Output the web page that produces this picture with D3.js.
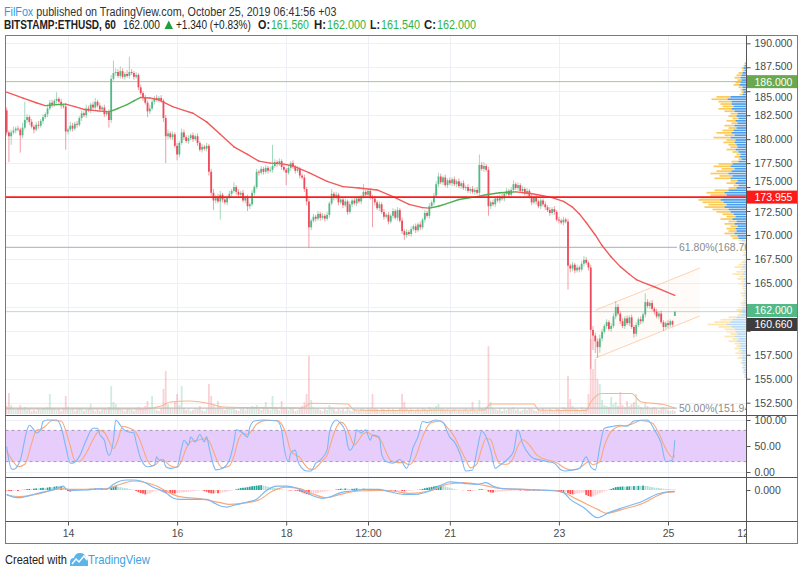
<!DOCTYPE html>
<html>
<head>
<meta charset="utf-8">
<script src="https://cdn.jsdelivr.net/npm/d3@7/dist/d3.min.js"></script>
<style>
html,body{margin:0;padding:0;background:#fff;}
svg{display:block;}
text{font-family:"Liberation Sans",Arial,sans-serif;}
</style>
</head>
<body>
<svg id="chart" width="800" height="575"></svg>
<script>
// ---------------- DATA ----------------
const firstCandleTime = Date.UTC(2019, 9, 12, 21); // hourly candles (UTC)
const firstOpen = 183.0;
const lastOpen = 161.56;
const closes = [
180.7,180.3,180.7,180.9,181.1,181.0,180.4,181.2,182.0,182.3,
181.8,181.3,181.0,181.5,181.4,181.9,182.3,182.6,183.2,183.8,
183.6,184.0,184.2,183.9,183.5,183.4,180.8,181.0,181.4,181.1,
181.6,181.5,182.2,182.7,182.5,183.2,183.0,183.6,183.3,183.9,
183.5,183.1,183.3,182.6,182.8,182.0,186.3,186.9,187.0,186.6,
187.1,186.5,186.8,186.6,187.0,186.9,186.5,186.7,185.4,184.8,
184.3,183.8,182.9,183.2,183.9,184.3,184.1,184.3,184.0,182.2,
180.3,180.6,180.2,180.5,179.3,178.4,179.6,180.7,180.2,179.8,
180.1,180.4,180.0,180.3,179.6,178.9,179.2,179.0,179.3,176.6,
174.4,173.6,174.0,173.5,174.2,173.7,173.4,173.9,174.3,174.6,
175.0,174.5,174.2,174.4,173.6,173.9,173.0,173.2,174.4,175.0,
176.6,176.5,176.9,176.6,177.0,176.7,176.8,177.2,177.6,177.4,
177.7,177.1,176.8,176.5,177.0,177.5,177.1,176.7,176.9,176.2,
176.0,174.8,173.5,170.8,171.5,171.9,171.7,172.2,171.8,172.0,
171.7,172.1,173.3,174.3,173.9,174.2,173.4,173.7,173.1,173.5,
172.4,173.2,173.6,173.3,173.8,173.5,174.0,174.5,174.2,174.6,
174.0,173.8,173.4,172.8,173.2,172.4,171.9,172.1,171.4,172.0,
172.5,171.8,172.6,171.5,170.4,170.0,170.3,170.1,170.6,170.9,
170.5,171.1,170.8,171.6,172.3,172.0,173.0,173.4,174.1,175.3,
176.1,175.5,176.0,175.2,175.7,175.4,175.8,175.3,175.6,175.1,
175.4,174.9,175.0,174.6,174.8,174.5,174.7,174.4,177.3,176.9,
177.2,176.8,173.0,173.4,173.2,173.8,173.6,174.0,173.8,174.3,
174.6,174.2,174.7,175.3,174.9,175.2,174.6,174.8,174.3,174.6,
174.0,173.4,173.9,173.5,173.0,173.6,173.2,172.9,172.6,172.3,
172.7,172.4,171.6,171.5,171.3,171.6,171.4,166.8,166.5,166.9,
166.3,166.6,166.4,167.0,167.4,167.1,166.6,160.1,159.5,158.9,
158.3,159.2,159.9,160.5,160.9,160.2,160.5,161.5,162.5,161.8,
161.0,160.5,161.3,160.8,161.4,160.4,159.7,160.6,161.2,161.0,
161.7,163.0,162.6,162.9,162.3,162.0,161.5,161.8,160.9,160.4,
160.8,160.6,161.0,160.66,162.0];
const upWick = [
0.3,0.2,0.3,0.4,0.2,0.3,0.2,0.5,1.9,0.3, 0.2,0.3,0.2,0.3,0.4,0.2,0.3,0.2,0.4,0.3,
0.3,0.2,0.7,0.2,0.3,0.2,0.3,0.2,0.4,0.3, 0.2,0.3,0.2,0.3,0.2,0.4,0.3,0.2,0.3,0.4,
0.2,0.3,0.2,0.3,0.2,0.3,0.4,1.3,0.4,0.3, 0.5,0.3,0.2,0.4,1.6,0.3,0.2,0.3,0.2,0.3,
0.2,0.3,0.2,0.4,0.3,0.2,0.3,0.2,0.3,0.2, 0.3,0.4,0.2,0.3,0.2,0.3,0.2,0.4,0.3,0.2,
0.3,0.2,0.3,0.2,0.3,0.2,0.3,0.2,0.3,0.2, 0.3,0.4,0.2,0.3,0.4,0.2,0.3,0.2,0.3,0.2,
0.5,0.2,0.3,0.2,0.3,0.2,0.3,0.2,0.3,0.2, 0.3,0.2,0.3,0.2,0.3,0.2,0.3,2.2,0.3,0.2,
0.3,0.2,0.3,0.2,0.3,0.2,0.3,0.2,0.3,0.2, 0.2,0.3,0.2,0.3,0.2,0.3,0.2,0.3,0.2,0.3,
0.2,0.3,0.2,0.5,0.2,0.3,0.2,0.3,0.2,0.3, 0.2,0.3,0.2,0.3,0.2,0.3,0.2,0.8,0.2,0.3,
0.3,0.2,0.3,0.2,0.3,0.2,0.3,0.2,0.3,0.2, 0.3,0.2,0.3,0.2,0.3,0.2,0.3,0.2,0.3,0.2,
0.3,0.2,0.3,0.2,0.3,0.2,0.3,0.2,0.3,0.3, 0.4,0.3,0.2,0.3,0.2,0.3,0.2,0.3,0.2,0.3,
0.2,0.3,0.2,0.3,0.2,0.3,0.2,0.3,1.1,0.3, 0.4,0.2,0.3,0.2,0.3,0.2,0.3,0.2,0.3,0.2,
0.3,0.2,0.3,0.4,0.2,0.3,0.2,0.3,0.2,0.3, 0.2,0.3,0.2,0.3,0.2,0.3,0.2,0.3,0.2,0.3,
0.2,0.3,0.2,0.3,0.2,0.3,0.2,0.3,0.2,0.3, 0.2,0.3,0.2,0.3,0.4,0.3,0.2,0.3,0.4,0.3,
0.3,0.4,0.3,0.2,0.3,0.2,0.3,0.3,0.6,0.3, 0.2,0.3,0.2,0.3,0.2,0.3,0.2,0.3,0.2,0.3,
0.2,0.9,0.3,0.2,0.3,0.2,0.3,0.2,0.3,0.2, 0.2,0.3,0.2,0.1,0.0];
const downWick = [
0.3,2.7,0.9,0.2,0.3,0.2,1.8,0.3,0.2,0.3, 0.3,0.2,0.4,0.2,0.3,0.2,0.3,0.2,0.3,0.2,
0.3,0.2,0.3,0.2,0.3,0.2,1.9,0.3,0.2,0.3, 0.2,0.3,0.2,0.3,0.2,0.3,0.2,0.3,0.2,0.3,
0.2,0.3,0.2,0.3,0.2,0.8,0.3,0.2,0.3,0.2, 0.3,0.2,0.3,0.2,0.3,0.2,0.3,0.2,0.3,0.2,
0.3,0.2,0.6,0.3,0.2,0.3,0.2,0.3,0.2,0.4, 2.8,0.3,0.2,0.3,0.2,0.6,0.3,0.2,0.3,0.2,
0.3,0.2,0.3,0.2,0.3,0.2,0.3,0.2,0.3,0.4, 0.3,1.0,0.3,0.2,1.9,0.3,0.2,0.3,0.2,0.3,
0.2,0.3,0.2,0.3,0.2,0.3,0.5,0.3,0.2,0.3, 0.2,0.3,0.2,0.3,0.2,0.3,0.2,0.3,0.2,0.3,
0.2,0.3,0.2,1.3,0.2,0.3,0.2,0.3,0.2,0.3, 0.2,0.3,0.4,2.1,0.3,0.2,0.3,0.2,0.3,0.2,
0.3,0.2,0.3,0.2,0.3,0.2,0.3,0.2,0.3,0.2, 0.3,0.2,0.3,0.2,0.3,0.2,0.3,0.2,0.3,0.2,
0.3,3.0,0.3,0.2,0.3,0.2,0.3,0.2,0.3,0.2, 0.3,0.2,0.3,0.2,0.3,0.5,0.3,0.2,0.3,0.2,
0.3,0.2,0.3,0.2,0.3,0.2,0.3,0.2,0.3,0.2, 0.3,0.2,0.3,0.2,0.3,0.2,0.3,0.2,0.3,0.2,
0.3,0.2,0.3,0.2,0.3,0.2,0.3,0.2,0.3,0.2, 0.3,0.2,1.0,0.3,0.2,0.3,0.2,0.3,0.2,0.3,
0.2,0.3,0.2,0.3,0.2,0.3,0.2,0.3,0.2,0.3, 0.2,0.3,0.2,0.3,0.2,0.3,0.2,0.3,0.2,0.3,
0.2,0.3,0.2,0.3,0.2,0.3,0.2,2.5,0.4,0.3, 0.3,0.2,0.3,0.2,0.3,0.2,0.3,4.1,1.5,1.2,
1.1,0.6,0.3,0.2,0.3,0.2,0.3,0.2,0.3,0.2, 0.3,0.2,0.3,0.2,0.3,0.2,0.4,0.3,0.2,0.3,
0.2,0.3,0.2,0.3,0.2,0.3,0.2,0.3,0.2,0.4, 0.2,0.3,0.2,0.2,0.02];
const volumes = [
8,21,9,5,4,6,9,5,7,4, 5,3,4,3,5,4,6,5,7,20, 5,6,4,5,3,6,18,7,4,5, 3,4,6,5,3,4,5,10,4,3,
5,3,4,6,4,7,28,12,10,6, 5,4,3,5,6,4,3,5,7,6, 5,8,13,7,18,5,4,3,6,25, 43,10,6,5,12,20,9,28,6,4,
5,3,4,6,5,8,4,3,5,30, 18,9,6,13,8,5,4,6,7,5, 6,4,3,5,7,4,6,5,8,7, 9,5,4,6,12,5,4,18,7,5,
4,13,6,5,4,7,5,3,4,6, 8,12,20,58,14,7,5,6,4,3, 5,4,9,7,5,3,6,4,5,3, 7,4,3,5,4,3,6,5,4,6,
5,20,6,5,4,6,5,3,6,4, 5,3,4,6,20,12,6,4,5,3, 4,5,3,6,5,4,7,5,6,8, 10,5,6,4,5,3,4,5,3,4,
3,4,5,3,4,12,4,3,14,6, 5,7,68,12,6,5,4,6,3,5, 4,6,5,7,4,5,3,4,5,4, 6,5,4,3,5,4,6,4,3,5,
4,3,6,5,4,7,6,38,15,8, 6,5,4,7,5,6,20,75,45,55, 35,30,14,9,8,7,17,10,12,8, 22,9,7,13,8,10,12,20,9,7,
6,12,8,5,6,7,5,4,6,7, 5,4,3,4,3];
// moving average of price (sampled at candle indices)
const maIdx = [0,7,13,17,22,26,30,34,40,45,49,53,56,59,63,67,73,78,82,88,94,100,106,111,116,121,126,133,141,148,155,163,170,177,183,186,190,194,199,207,211,217,224,230,236,240,245,249,252,255,259,262,266,270,274,277,281,285,290,294];
const maVal = [184.9,184.3,183.8,183.5,183.6,183.65,183.4,183.1,182.95,182.85,183.2,183.6,184.0,184.35,184.3,184.1,183.4,183.0,182.7,181.8,180.5,179.2,178.4,177.7,177.5,177.45,177.2,176.5,175.6,175.05,174.9,174.7,174.0,173.2,172.85,172.8,173.0,173.3,173.7,174.0,174.2,174.4,174.5,174.35,174.1,173.9,173.5,172.9,172.2,171.3,170.0,168.9,167.7,166.7,165.9,165.35,164.95,164.6,164.1,163.7];
// volume moving average
const volMaIdx = [0,60,68,72,80,90,95,130,134,150,153,170,210,213,232,234,255,257,260,262,275,279,290,294];
const volMaVal = [5,5,8,12,13,10,7,6,10.7,10,4,3.5,4,10,10,4,3.5,12,19,20.5,20.5,12.3,9,6];
// Stoch RSI %K and %D
const kIdx = [0,2,3,6,9,10,12,13,15,16,18,22,24,26,28,29,32,35,38,40,41,43,44,45,47,48,50,51,53,56,57,59,62,65,66,67,69,70,72,75,77,78,80,81,83,85,87,88,89,91,92,95,98,100,101,103,104,106,107,109,113,119,121,122,124,125,127,128,130,132,134,136,138,141,142,144,145,147,149,150,151,153,154,156,158,160,161,164,165,167,170,173,176,179,181,183,185,189,192,195,197,200,202,205,207,209,210,213,215,217,220,223,225,227,230,232,235,238,241,244,246,249,252,255,257,259,261,263,267,270,273,276,282,285,288,290,293,294];
const kVal = [49,7,5,23,81,90,81,75,81,97,100,100,86,49,17,17,30,61,84,84,72,61,42,32,61,100,90,84,78,75,57,26,10,13,29,23,23,10,7,10,46,61,52,67,58,72,58,68,49,13,4,7,23,57,81,78,75,67,86,98,100,98,81,49,20,36,42,23,7,2,2,17,23,42,75,97,100,93,78,52,42,57,81,75,81,61,71,67,35,20,17,24,7,49,68,97,95,100,95,67,58,29,2,4,42,78,75,42,7,13,23,39,81,55,33,26,23,20,17,4,2,4,7,29,10,4,49,84,88,90,88,98,100,81,55,20,23,61];
const dIdx = [0,3,5,8,11,13,15,17,20,24,26,28,30,32,35,38,41,43,45,47,49,51,53,56,58,60,62,64,66,68,70,72,75,77,79,81,83,85,87,89,91,93,95,98,100,102,104,106,108,110,114,119,121,123,125,127,129,131,133,135,137,139,141,143,145,147,149,151,153,155,157,159,161,163,165,167,169,172,175,177,180,182,184,187,191,194,197,199,202,204,207,209,211,213,215,217,220,223,225,227,230,233,236,239,242,245,248,251,254,256,258,261,263,266,269,272,275,279,284,287,290,293,294];
const dVal = [40,20,10,15,55,80,82,88,99,98,80,50,22,20,36,62,80,76,60,45,62,88,86,80,68,45,22,12,16,24,20,12,9,22,45,58,60,62,64,60,40,18,8,12,30,62,74,72,80,92,99,99,92,72,40,33,28,15,6,5,12,22,32,60,85,96,90,70,52,62,74,76,70,68,58,38,22,18,18,14,30,55,78,95,98,85,68,50,24,8,16,45,65,62,35,16,15,28,50,62,52,34,26,22,18,9,4,5,14,20,14,20,50,78,87,89,92,99,94,74,45,28,32];
// MACD line, signal line, histogram
const macdIdx = [0,3,6,9,15,21,25,26,29,35,41,44,47,50,53,56,59,65,70,73,76,82,88,91,94,97,100,106,110,114,119,123,126,129,132,135,139,142,147,152,158,164,169,175,180,186,192,195,201,207,211,214,218,227,233,242,245,248,254,260,265,271,280,286,290,294];
const macdVal = [-0.39,-0.64,-0.70,-0.55,-0.24,0.06,0.36,0.12,-0.03,0,0.12,0.06,0.52,0.82,0.91,0.91,0.82,0.21,-0.24,-0.70,-0.85,-0.85,-0.85,-1.15,-1.45,-1.55,-1.39,-1.09,-0.85,-0.09,0.36,0.36,0.27,0.06,-0.24,-0.55,-0.76,-0.64,-0.24,-0.09,0.06,0.06,-0.18,-0.39,-0.39,-0.09,0.52,0.73,0.61,0.52,0.67,0.36,0.12,0.06,0,-0.09,-0.24,-0.85,-1.61,-2.52,-2.06,-1.61,-1.0,-0.39,-0.18,-0.12];
const sigIdx = [0,6,15,24,28,35,44,50,56,60,66,70,76,85,94,98,106,111,117,123,129,135,141,147,155,164,170,177,186,194,201,210,217,227,236,243,251,260,264,271,280,286,290,294];
const sigVal = [-0.48,-0.61,-0.30,0.12,0.06,0.06,0.12,0.52,0.82,0.73,0.36,-0.09,-0.61,-0.79,-1.15,-1.30,-1.15,-0.91,-0.09,0.27,0.12,-0.39,-0.70,-0.39,-0.09,-0.03,-0.09,-0.30,-0.09,0.52,0.67,0.42,0.15,0.06,0,-0.09,-0.85,-1.76,-2.12,-1.76,-1.21,-0.55,-0.24,-0.18];
const hist = [
-0.05,-0.08,-0.1,-0.08,-0.06,-0.1,-0.05, 0.02,0.03,
0.08,0.1,0.06,0.12,0.15,0.13,0.18,0.2,0.17,0.22,0.26,0.24,0.3,0.34,0.33,0.36,0.25, 0.12,
-0.1,-0.15,-0.12,-0.08,-0.05,
0.03,0.05,0.08,0.06,0.1,0.12,0.09,0.14,0.11,0.08,0.12,0.06,0.04,0.02,
0.2,0.32,0.36,0.3,0.26,0.22,0.18,0.15,0.1,0.06,0.03,
-0.1,-0.2,-0.28,-0.32,-0.4,-0.38,-0.3,-0.2,-0.12,-0.06,
-0.05,-0.1,-0.2,-0.28,-0.24,-0.26,-0.3,-0.32,-0.3,
-0.26,-0.22,-0.2,-0.18,-0.15,-0.12,-0.1,-0.08,-0.06,-0.05,-0.04,
-0.1,-0.16,-0.25,-0.3,-0.32,-0.28,-0.3,-0.26,
-0.22,-0.18,-0.14,-0.1,-0.06,-0.02,
0.06,0.12,0.18,0.2,0.22,0.26,0.3,0.34,0.36,0.4,0.42,0.44,0.4,
0.36,0.3,0.26,0.22,0.18,0.14,0.1,0.06,0.03,
0.02,-0.03,-0.05,-0.04,-0.06,-0.08,
-0.15,-0.22,-0.3,-0.38,-0.42,-0.4,-0.35,
-0.3,-0.26,-0.22,-0.18,-0.14,-0.1,-0.06,-0.03,-0.01,
0.04,0.08,0.12,0.1,0.14,0.12,0.08,0.1,0.12,0.15,0.12,0.1,0.13,0.1,0.08,0.1,0.06,0.08,0.05,0.03,
-0.04,-0.08,-0.1,-0.06,-0.1,-0.08,-0.12,-0.1,-0.08,-0.1,-0.12,-0.1,-0.08,-0.06,-0.04,-0.02,0.02,0.04,
0.1,0.16,0.2,0.24,0.28,0.32,0.36,0.4,0.42,0.38,
0.32,0.26,0.2,0.14,0.08,0.04,
0.01,-0.01,-0.02,-0.01,
-0.06,-0.08,-0.07,-0.05,-0.02,
0.06,0.08,0.06,0.03,
-0.15,-0.22,-0.24,-0.2,
-0.17,-0.15,-0.13,-0.12,-0.1,-0.09,-0.08,-0.07,-0.06,-0.05,-0.05,-0.04,
-0.04,-0.05,-0.06,-0.05,-0.07,-0.06,-0.08,-0.06,-0.07,-0.05,-0.06,-0.05,-0.04,-0.05,-0.08,
-0.18,-0.22,-0.24,-0.2,
-0.3,-0.38,-0.4,-0.36,
-0.32,-0.28,-0.26,-0.22,
-0.45,-0.55,-0.6,-0.58,
-0.5,-0.4,-0.3,-0.22,-0.14,-0.06,0.02,
0.1,0.18,0.26,0.28,0.3,0.32,0.3,0.32,0.34,0.33,0.36,0.35,0.38,0.37,0.4,0.38,0.36,
0.3,0.26,0.22,0.2,0.17,0.15,0.12,0.1,0.08,0.06,0.05,0.04];
// visible-range volume profile (rows of 0.25 from 188 down), total and up volume
const vpTopPrice = 188, vpStep = 0.25, vpValueAreaLow = 169.5;
const vpTotal = [2,3,5,4,8, 10,12,9,11,13,8, 6,5,7, 30,35,28, 26,24,28,22, 16,18,14, 20,15,22,18, 24,30,22,33, 20,23,18,16,20,14, 10,12,8,15, 28,33,25, 30,36,27,32, 16,20,13,18, 32,40,36, 46,48,44, 38,42,34,30, 24,20,26,18,22,16,20, 18,22,16,14,8, 3,4,2,5,3,4,2,3, 5,8,12,6,10,14,7,9,5,8,4, 4,3,6,5,3,4,6,5, 8,10,7,9, 18,26,32,39,28,22, 20,16,22,14,18,12, 10,12,8,11,7,9, 5,6,4,5,3,4,2,2];
const vpUp = [1,2,3,2,4, 5,6,5,6,7,4, 4,3,4, 16,19,15, 15,13,15,12, 9,10,8, 11,9,12,10, 13,15,12,16, 11,12,10,9,11,8, 6,7,5,8, 14,16,12, 15,18,14,16, 9,11,8,10, 18,22,20, 24,26,23, 20,22,18,16, 13,11,14,10,12,9,11, 10,12,9,8,5, 1,2,1,2,1,2,1,1, 2,3,4,2,3,4,2,3,2,3,2, 2,1,3,2,1,2,3,2, 4,5,4,5, 10,14,16,20,15,12, 11,9,12,8,10,7, 6,7,5,6,4,5, 4,5,3,4,3,3,2,2];
// axes
const priceTicks = [152.5,155,157.5,160,162.5,165,167.5,170,172.5,175,177.5,180,182.5,185,187.5,190];
const rsiTicks = [0,50,100];
const rsiBand = [20,80];
const macdTicks = [0];
const timeTickDates = [[2019,9,14,0],[2019,9,16,0],[2019,9,18,0],[2019,9,19,12],[2019,9,21,0],[2019,9,23,0],[2019,9,25,0],[2019,9,26,12]];
const timeLabels = ["14","16","18","12:00","21","23","25","12:00"];
// drawings
const greenLevel = 186.000;
const redLevel = 173.955;
const fibLevels = [168.70, 151.94];
const fibTexts = ["61.80%(168.70)", "50.00%(151.94)"];
const lastPrice = 162.000;
const prevClose = 160.660;
const channelUpper = [[259,162.15],[305,166.55]];
const channelLower = [[259,157.15],[305,161.55]];

// ---------------- CHART ----------------
const svg = d3.select("#chart");
const XL = 5.5, XA = 746.5, XR = 797.5;
const mainT = 35.5, mainB = 415.5, rsiB = 477.5, macdB = 521.5, axisB = 543.5;
const HOUR = 3600e3;
const UP = "#53b987", DN = "#eb4d5c";

const x = d3.scaleUtc().domain([new Date(Date.UTC(2019,9,14)), new Date(Date.UTC(2019,9,25))]).range([68, 668]);
const xi = i => x(new Date(firstCandleTime + i * HOUR));
const y = d3.scaleLinear().domain([152.5, 190]).range([402.7, 43.3]);
const yV = d3.scaleLinear().domain([0, 100]).range([414, 314]);
const yR = d3.scaleLinear().domain([0, 100]).range([472, 420]);
const yM = d3.scaleLinear().domain([-2.5, 1]).range([517.5, 479]);
const tickDates = timeTickDates.map(a => new Date(Date.UTC(a[0], a[1], a[2], a[3])));

const defs = svg.append("defs");
function clip(id, x0, y0, x1, y1) {
  defs.append("clipPath").attr("id", id).append("rect")
    .attr("x", x0).attr("y", y0).attr("width", x1 - x0).attr("height", y1 - y0);
}
clip("cMain", XL, mainT, XA, mainB);
clip("cRsi", XL, mainB, XA, rsiB);
clip("cMacd", XL, rsiB, XA, macdB);
clip("cAxis", XL, macdB, XA, axisB);

// grid
const grid = svg.append("g").attr("stroke", "#edf0f5").attr("stroke-width", 1);
tickDates.forEach(d => {
  const gx = Math.round(x(d)) + 0.5;
  if (gx < XA) grid.append("line").attr("x1", gx).attr("x2", gx).attr("y1", mainT).attr("y2", macdB);
});
priceTicks.forEach(p => {
  const gy = Math.round(y(p)) + 0.5;
  grid.append("line").attr("x1", XL).attr("x2", XA).attr("y1", gy).attr("y2", gy);
});
rsiTicks.forEach(v => {
  const gy = Math.round(yR(v)) + 0.5;
  grid.append("line").attr("x1", XL).attr("x2", XA).attr("y1", gy).attr("y2", gy);
});

// candle records
const candles = closes.map((c, i) => {
  const o = i === 0 ? firstOpen : (i === closes.length - 1 ? lastOpen : closes[i - 1]);
  return { i, o, c, h: Math.max(o, c) + upWick[i], l: Math.min(o, c) - downWick[i], v: volumes[i], up: c >= o };
});

const main = svg.append("g").attr("clip-path", "url(#cMain)");

// volume profile
const vp = main.append("g");
vpTotal.forEach((t, k) => {
  const pTop = vpTopPrice - k * vpStep;
  const y0 = y(pTop), y1 = y(pTop - vpStep);
  const h = Math.max(1, (y1 - y0) - 0.7);
  const dark = (pTop - vpStep) >= vpValueAreaLow;
  const u = vpUp[k];
  vp.append("rect").attr("x", XA - t).attr("y", y0).attr("width", t - u).attr("height", h)
    .attr("fill", dark ? "#fbca5a" : "#fde6b0");
  vp.append("rect").attr("x", XA - u).attr("y", y0).attr("width", u).attr("height", h)
    .attr("fill", dark ? "#4d9de8" : "#b9dbf7");
});

// volume bars
main.append("g").selectAll("rect").data(candles).join("rect")
  .attr("x", d => xi(d.i) - 0.9).attr("width", 1.8)
  .attr("y", d => yV(d.v)).attr("height", d => yV(0) - yV(d.v))
  .attr("fill", d => d.up ? "rgba(83,185,135,0.28)" : "rgba(235,77,92,0.25)");
main.append("path")
  .datum(volMaIdx.map((k, j) => [k, volMaVal[j]]))
  .attr("d", d3.line().x(d => xi(d[0])).y(d => yV(d[1])).curve(d3.curveMonotoneX))
  .attr("fill", "none").attr("stroke", "#f8b68c").attr("stroke-width", 1.1);

// fib lines
fibLevels.forEach((p, j) => {
  const gy = y(p);
  main.append("line").attr("x1", XL).attr("x2", 677).attr("y1", gy).attr("y2", gy)
    .attr("stroke", "#bdbdbd").attr("stroke-width", 1.2);
  main.append("text").attr("x", 679).attr("y", gy + 3.5).attr("font-size", 10.5)
    .attr("fill", "#8c8c8c").text(fibTexts[j]);
});

// horizontal levels
main.append("line").attr("x1", XL).attr("x2", XA).attr("y1", y(greenLevel)).attr("y2", y(greenLevel))
  .attr("stroke", "#9ccf7f").attr("stroke-width", 1);
main.append("line").attr("x1", XL).attr("x2", XA).attr("y1", y(lastPrice)).attr("y2", y(lastPrice))
  .attr("stroke", "rgba(83,185,135,0.45)").attr("stroke-width", 1);

// channel
const chPoly = [channelUpper[0], channelUpper[1], channelLower[1], channelLower[0]];
main.append("path").attr("d", "M" + chPoly.map(p => [xi(p[0]), y(p[1])].join(",")).join("L") + "Z")
  .attr("fill", "rgba(255,170,110,0.05)");
[channelUpper, channelLower].forEach(ch => {
  main.append("line").attr("x1", xi(ch[0][0])).attr("y1", y(ch[0][1])).attr("x2", xi(ch[1][0])).attr("y2", y(ch[1][1]))
    .attr("stroke", "#fdd3b3").attr("stroke-width", 1);
});

// candles
const cg = main.append("g");
cg.selectAll("line").data(candles).join("line")
  .attr("x1", d => xi(d.i)).attr("x2", d => xi(d.i))
  .attr("y1", d => y(d.h)).attr("y2", d => y(d.l))
  .attr("stroke", d => d.up ? UP : DN).attr("stroke-opacity", 0.55).attr("stroke-width", 1);
cg.selectAll("rect").data(candles).join("rect")
  .attr("x", d => xi(d.i) - 0.9).attr("width", 1.8)
  .attr("y", d => y(Math.max(d.o, d.c)))
  .attr("height", d => Math.max(0.9, Math.abs(y(d.o) - y(d.c))))
  .attr("fill", d => d.up ? UP : DN);

// moving average coloured by slope
for (let j = 1; j < maIdx.length; j++) {
  main.append("line")
    .attr("x1", xi(maIdx[j - 1])).attr("y1", y(maVal[j - 1]))
    .attr("x2", xi(maIdx[j])).attr("y2", y(maVal[j]))
    .attr("stroke", maVal[j] >= maVal[j - 1] ? "#4caf50" : "#f25a5a")
    .attr("stroke-width", 1.4).attr("stroke-linecap", "round");
}

// red level on top
main.append("line").attr("x1", XL).attr("x2", XA).attr("y1", y(redLevel)).attr("y2", y(redLevel))
  .attr("stroke", "#ff1a1a").attr("stroke-width", 1.6);

// ---- RSI pane
const rsi = svg.append("g").attr("clip-path", "url(#cRsi)");
rsi.append("rect").attr("x", XL).attr("width", XA - XL).attr("y", yR(rsiBand[1])).attr("height", yR(rsiBand[0]) - yR(rsiBand[1]))
  .attr("fill", "#e7cdfb");
rsiBand.forEach(v => rsi.append("line").attr("x1", XL).attr("x2", XA).attr("y1", yR(v)).attr("y2", yR(v))
  .attr("stroke", "#a993c0").attr("stroke-dasharray", "3,3").attr("stroke-width", 1));
rsi.append("path").datum(dIdx.map((k, j) => [k, dVal[j]]))
  .attr("d", d3.line().x(d => xi(d[0])).y(d => yR(d[1])).curve(d3.curveMonotoneX))
  .attr("fill", "none").attr("stroke", "#f7a97c").attr("stroke-width", 1.1);
rsi.append("path").datum(kIdx.map((k, j) => [k, kVal[j]]))
  .attr("d", d3.line().x(d => xi(d[0])).y(d => yR(d[1])).curve(d3.curveMonotoneX))
  .attr("fill", "none").attr("stroke", "#7cb8f4").attr("stroke-width", 1.1);

// ---- MACD pane
const macd = svg.append("g").attr("clip-path", "url(#cMacd)");
macd.selectAll("rect").data(hist.map((v, i) => ({ i, v, p: i > 0 ? hist[i - 1] : 0 }))).join("rect")
  .attr("x", d => xi(d.i) - 0.9).attr("width", 1.8)
  .attr("y", d => Math.min(yM(0), yM(d.v))).attr("height", d => Math.abs(yM(d.v) - yM(0)))
  .attr("fill", d => d.v >= 0 ? (d.v >= d.p ? "#26a69a" : "#b2dfdb") : (d.v <= d.p ? "#ff5252" : "#ffcdd2"));
macd.append("path").datum(sigIdx.map((k, j) => [k, sigVal[j]]))
  .attr("d", d3.line().x(d => xi(d[0])).y(d => yM(d[1])).curve(d3.curveMonotoneX))
  .attr("fill", "none").attr("stroke", "#f7a97c").attr("stroke-width", 1.2);
macd.append("path").datum(macdIdx.map((k, j) => [k, macdVal[j]]))
  .attr("d", d3.line().x(d => xi(d[0])).y(d => yM(d[1])).curve(d3.curveMonotoneX))
  .attr("fill", "none").attr("stroke", "#7cb8f4").attr("stroke-width", 1.2);

// ---- price labels (computed first so covered tick labels can be handled)
const labels = [
  { v: greenLevel, bg: "#6aa84f" },
  { v: redLevel, bg: "#ff1a1a" },
  { v: lastPrice, bg: "#53b987" },
  { v: prevClose, bg: "#3d3d3d" }
].map(d => ({ ...d, cy: y(d.v) }));
labels.sort((a, b) => a.cy - b.cy);
for (let j = labels.length - 1; j > 0; j--) {
  if (labels[j].cy - labels[j - 1].cy < 14) labels[j - 1].cy = labels[j].cy - 14;
}

// ---- axes
function styleAxis(g) {
  g.select(".domain").remove();
  g.selectAll("line").attr("stroke", "#555");
  g.selectAll("text").attr("fill", "#4a4a4a").style("font-size", "10.5px").style("font-family", "'Liberation Sans',Arial,sans-serif");
}
const yAxisG = svg.append("g").attr("transform", `translate(${XA},0)`)
  .call(d3.axisRight(y).tickValues(priceTicks).tickSize(4).tickPadding(4).tickFormat(d3.format(".3f"))).call(styleAxis);
// ticks fully covered by a label box are hidden; nearby ones are nudged away from the box
yAxisG.selectAll(".tick").each(function(p) {
  const ty = y(p);
  let near = null;
  labels.forEach(l => { if (!near || Math.abs(ty - l.cy) < Math.abs(ty - near.cy)) near = l; });
  const d = Math.abs(ty - near.cy);
  const txt = d3.select(this).select("text");
  if (d < 9) { txt.remove(); return; }
  if (d < 15.5) txt.attr("transform", `translate(0,${((15.5 - d) * Math.sign(ty - near.cy)).toFixed(2)})`);
});
svg.append("g").attr("transform", `translate(${XA},0)`)
  .call(d3.axisRight(yR).tickValues(rsiTicks).tickSize(4).tickPadding(4).tickFormat(d3.format(".2f"))).call(styleAxis);
svg.append("g").attr("transform", `translate(${XA},0)`)
  .call(d3.axisRight(yM).tickValues(macdTicks).tickSize(4).tickPadding(4).tickFormat(d3.format(".3f"))).call(styleAxis);
svg.append("g").attr("clip-path", "url(#cAxis)").append("g").attr("transform", `translate(0,${macdB})`)
  .call(d3.axisBottom(x).tickValues(tickDates).tickSize(4).tickPadding(4).tickFormat((d, i) => timeLabels[i])).call(styleAxis);

labels.forEach(d => {
  svg.append("rect").attr("x", XA + 0.5).attr("y", d.cy - 6.5).attr("width", XR - XA - 1).attr("height", 13).attr("fill", d.bg);
  svg.append("text").attr("x", XA + 8).attr("y", d.cy + 4).attr("fill", "#fff").attr("font-size", 10.5).text(d.v.toFixed(3));
});

// ---- frame
const fr = svg.append("g").attr("fill", "none");
fr.append("rect").attr("x", XL).attr("y", mainT).attr("width", XR - XL).attr("height", axisB - mainT).attr("stroke", "#7a7a7a");
[mainB, rsiB, macdB].forEach(v => fr.append("line").attr("x1", XL).attr("x2", XR).attr("y1", v).attr("y2", v).attr("stroke", "#555"));
fr.append("line").attr("x1", XA).attr("x2", XA).attr("y1", mainT).attr("y2", axisB).attr("stroke", "#555");

// ---- header / footer text fitted to measured widths with a horizontal scale
function fitText(t, x0, y0, w) {
  const n = t.node().getComputedTextLength() || w;
  t.attr("x", 0).attr("y", 0).attr("transform", `translate(${x0},${y0}) scale(${(w / n).toFixed(4)},1)`);
  return t;
}
const GREEN_T = "#2fb34a";
const h1 = svg.append("text").attr("font-size", 12);
h1.append("tspan").attr("fill", "#2d9be3").text("FilFox");
h1.append("tspan").attr("fill", "#333").text(" published on TradingView.com, October 25, 2019 06:41:56 +03");
fitText(h1, 4, 15.5, 333);
const seg = [
  ["BITSTAMP:ETHUSD, 60", 4, 112, "#222", true],
  ["162.000", 123, 37, "#222", false],
  ["+1.340 (+0.83%)", 176, 75, "#222", false],
  ["O:", 258, 12, "#222", true], ["161.560", 271, 38, GREEN_T, false],
  ["H:", 314, 12, "#222", true], ["162.000", 327, 39, GREEN_T, false],
  ["L:", 370, 10, "#222", true], ["161.540", 381, 39, GREEN_T, false],
  ["C:", 424, 12, "#222", true], ["162.000", 437, 39, GREEN_T, false]
];
seg.forEach(s => {
  const t = svg.append("text").attr("font-size", 12)
    .attr("font-weight", s[4] ? "bold" : "normal").attr("fill", s[3]).text(s[0]);
  fitText(t, s[1], 29, s[2]);
});
svg.append("path").attr("d", "M164.5,29 L173,29 L168.75,20.5 Z").attr("fill", "#1e9e3c");

fitText(svg.append("text").attr("font-size", 12).attr("fill", "#222").text("Created with"), 5, 564, 62);
const logo = svg.append("g").attr("fill", "#5cb4e8");
logo.append("path").attr("d", "M70,566 L70,562 Q70,558 74,558 Q75,553 80,553 Q85,553 86,558 Q88,559 88,562 L88,566 Z");
svg.append("path").attr("d", "M72,564 L76,559 L79,562 L84,556 L87,560").attr("fill", "none").attr("stroke", "#fff").attr("stroke-width", 1.4);
fitText(svg.append("text").attr("font-size", 12).attr("fill", "#3aa3e3").text("TradingView"), 88, 564, 62);
</script>
</body>
</html>
